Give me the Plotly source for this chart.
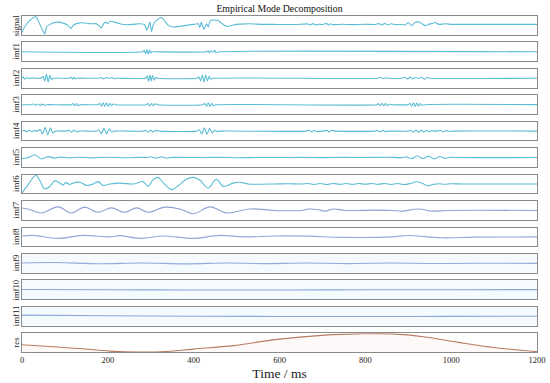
import plotly.graph_objects as go
from plotly.subplots import make_subplots

# ---------------- data ----------------
x_ticks = [0, 200, 400, 600, 800, 1000, 1200]
panel_names = ["signal", "imf1", "imf2", "imf3", "imf4", "imf5", "imf6",
               "imf7", "imf8", "imf9", "imf10", "imf11", "res"]

signal_t = [0, 6, 18, 32, 41, 53, 57, 65, 80, 96, 107, 114, 119, 131, 142, 158, 173, 181, 185, 189,
            195, 199, 205, 216, 228, 243, 259, 274, 286, 290, 294, 298, 302, 306, 313, 325, 333, 341,
            352, 368, 383, 399, 411, 414, 418, 424, 430, 434, 439, 449, 457, 465, 477, 492, 508, 531,
            560, 589, 600, 640, 667, 672, 678, 684, 690, 700, 710, 714, 718, 724, 745, 770, 800, 823,
            832, 838, 845, 852, 860, 870, 885, 893, 900, 908, 916, 924, 932, 940, 947, 955, 963, 971,
            980, 986, 1002, 1030, 1200]
signal_v = [-0.79, -0.18, 0.54, 1.0, 0.18, -1.0, -0.18, 0.11, 0.36, 0.25, 0.0, -0.36, 0.0, 0.25, 0.29,
            0.18, 0.18, -0.11, -0.32, 0.11, 0.36, 0.18, 0.46, 0.36, 0.18, 0.07, 0.11, 0.18, 0.07, -0.54,
            -0.18, 0.36, -0.71, 0.11, 0.54, 0.89, 0.46, 0.0, -0.18, -0.11, 0.0, 0.11, 0.18, -0.25, 0.36,
            -0.46, 0.18, -0.18, 0.54, 0.61, 0.54, 0.25, -0.11, 0.04, 0.14, 0.18, 0.11, 0.11, 0.1, 0.1,
            0.16, 0.05, 0.2, 0.04, 0.12, 0.1, 0.22, 0.02, 0.18, 0.08, 0.12, 0.08, 0.12, 0.1, 0.2, 0.04,
            0.22, 0.06, 0.18, 0.08, 0.1, 0.04, 0.29, -0.04, 0.32, 0.39, 0.18, -0.04, 0.11, 0.2, 0.32,
            0.11, 0.14, 0.18, 0.11, 0.11, 0.11]

imf1_t = [0, 280, 285, 288, 291, 294, 297, 300, 303, 310, 430, 434, 437, 440, 446, 449, 452, 460, 1200]
imf1_v = [0, 0, 0.15, -0.2, 0.25, -0.25, 0.2, -0.15, 0, 0, 0, 0.1, -0.12, 0.08, 0, 0.15, -0.1, 0, 0]

imf2_t = [0, 3, 6, 10, 15, 25, 35, 45, 49, 53, 57, 61, 65, 69, 72, 110, 115, 118, 121, 124, 127, 180,
          185, 190, 195, 205, 210, 214, 218, 288, 292, 295, 298, 301, 304, 308, 312, 316, 408, 412, 416,
          420, 424, 428, 432, 436, 440, 446, 830, 836, 842, 848, 855, 885, 892, 898, 904, 910, 916, 925,
          932, 938, 944, 950, 1200]
imf2_v = [0, 0.15, -0.1, 0.05, 0, 0.03, 0, 0, 0.2, -0.3, 0.45, -0.4, 0.3, -0.15, 0, 0, 0.1, -0.1, 0.1,
          -0.08, 0, 0, 0.08, -0.08, 0.06, 0, 0.08, -0.06, 0, 0, 0.25, -0.35, 0.35, -0.3, 0.3, -0.2, 0.1,
          0, 0, 0.15, -0.3, 0.35, -0.4, 0.35, -0.3, 0.2, -0.1, 0, 0, 0.08, -0.06, 0.05, 0, 0, 0.1, -0.1,
          0.12, -0.08, 0.05, 0, 0.1, -0.12, 0.08, 0, 0]

imf3_t = [0, 22, 27, 32, 37, 42, 47, 52, 58, 115, 119, 123, 127, 131, 135, 177, 181, 185, 189, 193, 197,
          201, 205, 209, 213, 218, 290, 294, 298, 302, 306, 310, 316, 422, 426, 430, 434, 438, 442, 446,
          452, 827, 831, 835, 839, 843, 847, 851, 856, 862, 900, 904, 908, 912, 916, 920, 924, 928, 932,
          938, 1200]
imf3_v = [0, 0, 0.08, -0.08, 0.08, -0.08, 0.06, -0.06, 0, 0, 0.12, -0.12, 0.12, -0.1, 0, 0, 0.15, -0.15,
          0.2, -0.2, 0.2, -0.18, 0.15, -0.12, 0.08, 0, 0, 0.12, -0.12, 0.12, -0.12, 0.1, 0, 0, 0.15, -0.18,
          0.2, -0.18, 0.15, -0.1, 0, 0, 0.12, -0.12, 0.15, -0.12, 0.12, -0.1, 0.05, 0, 0, 0.15, -0.18, 0.2,
          -0.2, 0.18, -0.15, 0.12, -0.08, 0, 0]

imf4_t = [0, 5, 10, 16, 22, 30, 37, 42, 48, 54, 60, 66, 72, 78, 103, 109, 115, 121, 127, 134, 173, 179,
          185, 191, 197, 203, 209, 214, 282, 288, 294, 300, 306, 312, 320, 407, 413, 419, 425, 431, 437,
          443, 449, 455, 461, 663, 669, 675, 681, 687, 700, 710, 716, 722, 729, 823, 829, 835, 841, 847,
          855, 900, 906, 912, 918, 924, 930, 936, 942, 948, 955, 962, 975, 981, 988, 995, 1005, 1200]
imf4_v = [0, 0.1, -0.08, 0.1, -0.05, 0.05, 0, 0.2, -0.3, 0.4, -0.4, 0.35, -0.2, 0, 0, 0.12, -0.12, 0.12,
          -0.1, 0, 0, 0.15, -0.3, 0.3, -0.3, 0.25, -0.1, 0, 0, 0.1, -0.12, 0.12, -0.1, 0.08, 0, 0, 0.15,
          -0.3, 0.35, -0.35, 0.3, -0.2, 0.1, -0.05, 0, 0, 0.1, -0.1, 0.1, -0.05, 0, 0.08, -0.1, 0.1, 0, 0,
          0.06, -0.08, 0.08, -0.06, 0, 0, 0.1, -0.12, 0.12, -0.12, 0.12, -0.12, 0.1, -0.08, 0.06, 0, 0.06,
          -0.06, 0.05, -0.04, 0, 0]

imf5_t = [0, 12, 30, 45, 61, 75, 90, 110, 130, 160, 200, 240, 280, 290, 300, 312, 324, 336, 350, 400,
          450, 500, 550, 600, 650, 700, 750, 800, 850, 885, 895, 908, 921, 934, 947, 960, 973, 986, 998,
          1010, 1200]
imf5_v = [-0.12, -0.05, 0.3, -0.15, 0.1, -0.05, 0.05, -0.03, 0.04, -0.03, 0.03, -0.02, 0.02, 0, 0.08,
          -0.08, 0.08, -0.05, 0.02, 0, 0.02, -0.02, 0.01, 0, 0.02, -0.01, 0.02, 0, 0.03, 0, 0.08, -0.12,
          0.2, -0.12, 0.15, -0.15, 0.12, -0.08, 0.04, 0, 0]

imf6_t = [0, 14, 32, 41, 53, 65, 76, 88, 96, 103, 111, 119, 135, 150, 166, 177, 189, 205, 228, 259, 282,
          294, 306, 317, 329, 348, 364, 383, 399, 414, 434, 453, 469, 492, 508, 527, 554, 589, 620, 650,
          667, 680, 695, 710, 725, 740, 755, 770, 785, 800, 815, 830, 845, 860, 875, 890, 905, 918, 930,
          945, 958, 970, 985, 1000, 1030, 1200]
imf6_v = [-1.0, -0.1, 1.0, 0.45, -0.56, -0.27, 0.35, 0.1, -0.1, 0.16, -0.05, 0.1, 0.2, -0.16, 0, 0.27,
          -0.16, 0, 0.1, 0, 0.27, -0.27, 0.53, 0.75, 0.16, -0.64, -0.2, 0.53, 0.75, 0.45, -0.45, 0.53,
          -0.27, 0.1, 0.2, 0, -0.02, 0, 0.02, 0, 0.05, -0.05, 0.06, -0.05, 0.06, -0.04, 0.05, -0.04, 0.05,
          -0.03, 0.05, -0.04, 0.06, -0.05, 0.05, -0.06, 0.06, 0.25, 0.15, -0.2, -0.05, 0.03, -0.02, 0.02,
          0, 0]

imf7_t = [0, 18, 45, 84, 115, 146, 177, 208, 240, 267, 294, 333, 368, 399, 438, 477, 531, 589, 652, 667,
          690, 706, 726, 753, 823, 862, 885, 924, 955, 994, 1200]
imf7_v = [0.27, 0.1, -0.27, 0.38, -0.27, 0.35, -0.2, 0.27, -0.2, 0.27, -0.2, 0.35, 0.16, -0.35, 0.38,
          -0.27, 0.16, 0, 0, 0.15, 0.08, -0.07, 0.15, 0, 0.03, 0, -0.07, 0.15, -0.07, 0, 0]

imf8_t = [0, 26, 84, 142, 205, 228, 274, 329, 399, 461, 516, 589, 667, 745, 862, 900, 978, 1056, 1200]
imf8_v = [0.1, 0.16, -0.16, 0.16, 0, 0.13, -0.16, 0.1, -0.16, 0.16, 0, 0.1, 0.08, -0.05, 0, 0.15, -0.1,
          -0.03, 0]

imf9_t = [0, 80, 180, 280, 380, 480, 560, 660, 760, 860, 960, 1060, 1200]
imf9_v = [0.04, 0.08, -0.04, 0.04, -0.06, 0.04, -0.03, 0.03, -0.03, 0.03, -0.02, 0.01, 0]

imf10_t = [0, 200, 400, 600, 800, 1000, 1200]
imf10_v = [0.03, 0.0, -0.02, -0.02, 0.0, 0.01, 0.02]

imf11_t = [0, 200, 400, 600, 800, 1000, 1200]
imf11_v = [0.12, 0.05, 0, -0.03, -0.03, -0.02, 0]

res_t = [0, 65, 142, 205, 274, 337, 399, 492, 589, 706, 784, 862, 940, 1018, 1095, 1200]
res_v = [0.4, 0.3, 0.18, 0.05, 0, 0.03, 0.16, 0.35, 0.68, 0.93, 1.0, 1.0, 0.83, 0.53, 0.26, 0.02]

# ---------------- styling ----------------
series = [(signal_t, signal_v), (imf1_t, imf1_v), (imf2_t, imf2_v), (imf3_t, imf3_v),
          (imf4_t, imf4_v), (imf5_t, imf5_v), (imf6_t, imf6_v), (imf7_t, imf7_v),
          (imf8_t, imf8_v), (imf9_t, imf9_v), (imf10_t, imf10_v), (imf11_t, imf11_v),
          (res_t, res_v)]
colors = ["#5bbdd5"] * 7 + ["#8ea2d4", "#93a9da", "#93abdc", "#8aa8dc", "#8aa8dc", "#b87c62"]
FONT = "Liberation Serif, Times New Roman, serif"

W, H = 550, 383
ML, MR, MT, MB = 22, 13, 16, 31
PH = H - MT - MB
panel_h = 18.7
pitch = (PH - panel_h) / 12

n = len(panel_names)
fig = make_subplots(rows=n, cols=1, shared_xaxes=True, vertical_spacing=0.02)

for i, (name, (t, v), c) in enumerate(zip(panel_names, series, colors)):
    smooth = 1.0 if i >= 6 else 0.5
    kw = {}
    if name == "res":
        kw = dict(fill="tozeroy", fillcolor="rgba(245,200,200,0.10)")
    fig.add_trace(go.Scatter(x=t, y=v, mode="lines",
                             line=dict(color=c, width=1.1, shape="spline", smoothing=smooth),
                             hoverinfo="skip", showlegend=False, **kw), row=i + 1, col=1)

for i, name in enumerate(panel_names):
    k = "" if i == 0 else str(i + 1)
    top = i * pitch
    bot = top + panel_h
    dom = [1 - bot / PH, 1 - top / PH]
    yr = [0, 1.03] if name == "res" else ([-1.06, 1.06] if name in ("signal", "imf6") else [-1, 1])
    fig.layout["yaxis" + k].update(domain=dom, range=yr, showticklabels=False, ticks="",
                                   showgrid=False, zeroline=False, showline=True, mirror=True,
                                   linecolor="#8a8a8a", linewidth=1.2, fixedrange=True,
                                   automargin=False)
    fig.layout["xaxis" + k].update(range=[0, 1200], showgrid=False, zeroline=False, showline=True,
                                   mirror=True, linecolor="#8a8a8a", linewidth=1.2, ticks="",
                                   showticklabels=(i == n - 1), tickvals=x_ticks,
                                   tickfont=dict(family=FONT, size=8.5, color="#222"),
                                   automargin=False)
    fig.add_annotation(text=name, textangle=-90, xref="paper", yref="paper",
                       x=0, xanchor="right", xshift=1, y=(dom[0] + dom[1]) / 2, yanchor="middle",
                       showarrow=False, font=dict(family=FONT, size=8.8, color="#222"))
    if name in ("imf9", "imf10", "imf11"):
        fig.add_shape(type="rect", xref=f"x{k} domain", yref=f"y{k} domain", x0=0, x1=1, y0=0, y1=1,
                      fillcolor="#f4fafd", line=dict(width=0), layer="below")

fig.layout["xaxis" + str(n)].update(title=dict(text="Time / ms", standoff=4,
                                               font=dict(family=FONT, size=13.5, color="#222")))

fig.update_layout(width=W, height=H, margin=dict(l=ML, r=MR, t=MT, b=MB, autoexpand=False),
                  paper_bgcolor="white", plot_bgcolor="white",
                  title=dict(text="Empirical Mode Decomposition", x=(ML + (W - MR)) / 2 / W,
                             xanchor="center", y=1 - 9 / H, yanchor="middle",
                             font=dict(family=FONT, size=9.8, color="#111")))

fig.write_html("out.html", config={"displayModeBar": False},
               post_script="document.body.style.margin='0';document.body.style.overflow='hidden';")
